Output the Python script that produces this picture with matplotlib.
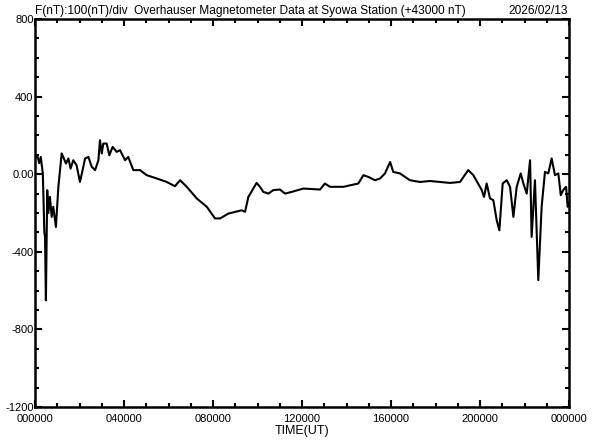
"""
Syowa Overhauser magnetometer F plot (daily, +43000 nT offset)
"""

import matplotlib
matplotlib.use('Agg')
import matplotlib.pyplot as plt
from matplotlib.ticker import MultipleLocator, FixedLocator

# time in hours UT, F - 43000 in nT
hours = [
    0.00, 0.10, 0.19, 0.26, 0.35, 0.38, 0.42, 0.45, 0.49, 0.55,
    0.60, 0.67, 0.75, 0.82, 0.94, 1.05, 1.20, 1.27, 1.39, 1.50,
    1.60, 1.72, 1.87, 2.02, 2.14, 2.25, 2.40, 2.55, 2.70, 2.85,
    2.92, 3.00, 3.07, 3.22, 3.34, 3.49, 3.67, 3.82, 4.05, 4.19,
    4.42, 4.72, 5.02, 5.47, 5.92, 6.29, 6.52, 6.82, 7.27, 7.72,
    8.09, 8.32, 8.69, 9.29, 9.44, 9.59, 9.96, 10.11, 10.26, 10.49,
    10.71, 11.01, 11.24, 11.54, 12.06, 12.81, 13.03, 13.26, 13.86, 14.53,
    14.76, 14.98, 15.28, 15.51, 15.73, 15.96, 16.10, 16.40, 16.85, 17.30,
    17.75, 18.20, 18.65, 19.10, 19.47, 19.70, 20.08, 20.18, 20.30, 20.45,
    20.60, 20.75, 20.87, 21.02, 21.20, 21.35, 21.50, 21.65, 21.83, 21.95,
    22.10, 22.25, 22.32, 22.47, 22.62, 22.77, 22.92, 23.07, 23.22, 23.37,
    23.52, 23.63, 23.74, 23.87, 23.94, 24.00,
]
f_nt = [
    82, 98, 57, 89, 5, -117, -300, -323, -650, -82,
    -201, -117, -220, -168, -272, -65, 107, 89, 55, 81,
    29, 72, 46, -40, 21, 81, 89, 38, 21, 72,
    175, 107, 158, 158, 98, 141, 115, 124, 72, 89,
    21, 21, -5, -22, -40, -62, -31, -65, -125, -168,
    -228, -228, -203, -186, -194, -117, -45, -65, -91, -100,
    -82, -79, -100, -91, -74, -79, -48, -65, -65, -48,
    -5, -14, -31, -22, 4, 63, 12, 4, -31, -40,
    -35, -40, -45, -40, 21, -5, -82, -117, -48, -125,
    -134, -237, -289, -48, -31, -65, -220, -65, 4, -48,
    -100, 72, -323, -31, -546, -168, 12, 4, 81, -5,
    4, -108, -82, -65, -168, -150,
]

x_ticks = [0, 4, 8, 12, 16, 20, 24]
x_labels = ['000000', '040000', '080000', '120000', '160000', '200000', '000000']
y_ticks = [800, 400, 0, -400, -800, -1200]
y_labels = ['800', '400', '0.00', '-400', '-800', '-1200']

title = 'F(nT):100(nT)/div  Overhauser Magnetometer Data at Syowa Station (+43000 nT)'
date_str = '2026/02/13'

plt.rcParams['font.family'] = ['Liberation Sans', 'DejaVu Sans']

fig = plt.figure(figsize=(5.92, 4.4), dpi=100)
ax = fig.add_axes([35 / 592, 33 / 440, 534 / 592, 388 / 440])

ax.plot(hours, f_nt, color='black', linewidth=1.5)

ax.set_xlim(0, 24)
ax.set_ylim(-1200, 800)
ax.xaxis.set_major_locator(FixedLocator(x_ticks))
ax.set_xticklabels(x_labels)
ax.xaxis.set_minor_locator(MultipleLocator(1))
ax.yaxis.set_major_locator(FixedLocator(y_ticks))
ax.set_yticklabels(y_labels)
ax.yaxis.set_minor_locator(MultipleLocator(100))

ax.tick_params(which='both', direction='in', top=True, right=True,
               width=1.5, labelsize=8)
ax.tick_params(which='major', length=5)
ax.tick_params(which='minor', length=3)
ax.tick_params(axis='y', pad=1)
ax.tick_params(axis='x', pad=5)
for s in ax.spines.values():
    s.set_linewidth(1.8)

fig.text(35 / 592, 1 - 17 / 440, title, fontsize=8.6, ha='left', va='bottom')
fig.text(568 / 592, 1 - 17 / 440, date_str, fontsize=8.6, ha='right', va='bottom')
fig.text(302 / 592, 1 - 431 / 440, 'TIME(UT)', fontsize=9, ha='center', va='center')

fig.savefig('out.png', dpi=100, facecolor='white')
